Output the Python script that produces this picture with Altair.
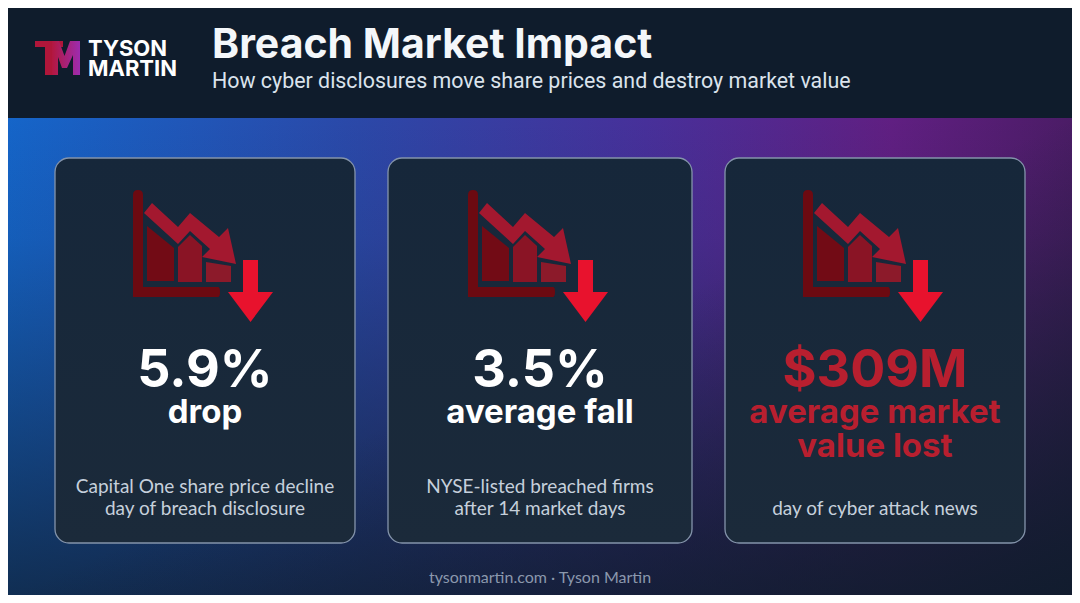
import altair as alt
import pandas as pd

# --- content ---
title = "Breach Market Impact"
subtitle = "How cyber disclosures move share prices and destroy market value"
brand = ["TYSON", "MARTIN"]
footer = "tysonmartin.com · Tyson Martin"

stat_values = ["5.9%", "3.5%", "$309M"]
stat_labels = [["drop"], ["average fall"], ["average market", "value lost"]]
captions = [
    ["Capital One share price decline", "day of breach disclosure"],
    ["NYSE-listed breached firms", "after 14 market days"],
    ["day of cyber attack news"],
]
alert = [False, False, True]

# --- layout (reference pixels; the page margin shifts everything by 8) ---
W, H = 1064, 587
X0, Y0 = 8, 8
card_left = [55, 388, 725]
card_right = [355, 692, 1025]
card_top, card_bottom = 158, 543
card_mid = [(a + b) / 2 for a, b in zip(card_left, card_right)]

xs = alt.Scale(domain=[X0, X0 + W], nice=False, zero=False)
ys = alt.Scale(domain=[Y0, Y0 + H], nice=False, zero=False, reverse=True)


def X(f):
    return alt.X(f, scale=xs, axis=None)


def Y(f):
    return alt.Y(f, scale=ys, axis=None)


def grad(stops, x2=1, y2=0):
    return alt.LinearGradient(
        gradient="linear",
        stops=[alt.GradientStop(offset=o, color=c) for o, c in stops],
        x1=0, y1=0, x2=x2, y2=y2,
    )


def tone(a):
    return "#b81f2f" if a else "#ffffff"


# background
header = alt.Chart(pd.DataFrame({"x": [X0], "x2": [X0 + W], "y": [Y0], "y2": [118]})).mark_rect(
    color="#0f1c2c"
).encode(x=X("x:Q"), x2="x2", y=Y("y:Q"), y2="y2")

band = pd.DataFrame({"x": [X0], "x2": [X0 + W], "y": [118], "y2": [Y0 + H]})
hue = alt.Chart(band).mark_rect(
    fill=grad([(0, "#1565c9"), (0.33, "#2b48a8"), (0.6, "#47309a"), (0.83, "#601f82"), (1, "#4b1c66")])
).encode(x=X("x:Q"), x2="x2", y=Y("y:Q"), y2="y2")
fade = alt.Chart(band).mark_rect(
    fill=grad([(0, "rgba(15,28,44,0)"), (0.25, "rgba(15,28,44,0.1)"), (1, "rgba(15,28,44,0.75)")], x2=0, y2=1)
).encode(x=X("x:Q"), x2="x2", y=Y("y:Q"), y2="y2")
corner = alt.Chart(band).mark_rect(
    fill=grad([(0, "rgba(15,28,44,0)"), (0.5, "rgba(15,28,44,0)"), (1, "rgba(15,28,44,0.85)")], x2=1, y2=1)
).encode(x=X("x:Q"), x2="x2", y=Y("y:Q"), y2="y2")

# cards
cards_df = pd.DataFrame({"x": card_left, "x2": card_right, "y": card_top, "y2": card_bottom})
cards = alt.Chart(cards_df).mark_rect(
    cornerRadius=14,
    fill=grad([(0, "#16273a"), (1, "#1b2a3a")], x2=0, y2=1),
    stroke="#8494ab",
    strokeWidth=1.3,
).encode(x=X("x:Q"), x2="x2", y=Y("y:Q"), y2="y2")

# icon: axes, bars, trend arrow, big arrow (custom symbol paths, 1 unit = 1 px at size 4)
icon_parts = ["axis", "bar1", "bar2", "bar3", "trend", "arrow"]
icon_paths = [
    "M-69,-61 Q-69,-66 -64,-66 Q-59,-66 -59,-61 L-59,31 L16,31 Q18,31 18,36 Q18,41 16,41 L-69,41 Z",
    "M-55,-30 L-28,-8 L-28,25 L-55,25 Z",
    "M-24,-9 L-12,-21 L0,-10 L0,26 L-24,26 Z",
    "M4,6 L29,10 L29,26 L4,26 Z",
    "M-58,-43 L-50,-53 L-24,-29 L-12,-43 L17,-19 L26,-28 L34,8 L0,1 L8,-7 L-12,-25 L-24,-12 Z",
    "M41,4 L56,4 L56,36 L71,36 L48.5,66 L26,36 L41,36 Z",
]
icon_colors = ["#6c0a11", "#720b15", "#8a1425", "#8c1a2a", "#a3182f", "#e8122d"]
icon_rows = [{"x": m - 3, "y": 256, "part": p} for m in card_mid for p in icon_parts]
icons = alt.Chart(pd.DataFrame(icon_rows)).mark_point(
    filled=True, size=4, opacity=1, strokeWidth=0
).encode(
    x=X("x:Q"),
    y=Y("y:Q"),
    shape=alt.Shape("part:N", scale=alt.Scale(domain=icon_parts, range=icon_paths), legend=None),
    color=alt.Color("part:N", scale=alt.Scale(domain=icon_parts, range=icon_colors), legend=None),
)

# logo monogram
logo_pos = pd.DataFrame({"x": [57], "y": [58]})
logo_t = alt.Chart(logo_pos).mark_point(
    filled=True, size=4, opacity=1, strokeWidth=0, color="#b0163a",
    shape="M-22,-17 L6,-17 L6,-11 L-4,-11 L-4,17 L-12,17 L-12,-11 L-22,-11 Z",
).encode(x=X("x:Q"), y=Y("y:Q"))
logo_m = alt.Chart(logo_pos).mark_point(
    filled=True, size=4, opacity=1, strokeWidth=0,
    fill=grad([(0, "#b3173f"), (1, "#9d2cb0")]),
    shape="M-5,-17 L2,-17 L7.5,-2 L13,-17 L23,-17 L23,17 L16,17 L16,-3 L10,10 L5,10 L1,-1 L1,17 L-5,17 Z",
).encode(x=X("x:Q"), y=Y("y:Q"))

brand_txt = alt.Chart(pd.DataFrame({"x": 88, "y": [56, 76], "t": brand})).mark_text(
    font="Inter", fontWeight=700, fontSize=22, color="#ffffff", align="left", baseline="alphabetic"
).encode(x=X("x:Q"), y=Y("y:Q"), text="t:N")

title_txt = alt.Chart(pd.DataFrame({"x": [212], "y": [58], "t": [title]})).mark_text(
    font="Inter", fontWeight=700, fontSize=41, color="#f4f7fa", align="left", baseline="alphabetic"
).encode(x=X("x:Q"), y=Y("y:Q"), text="t:N")

sub_txt = alt.Chart(pd.DataFrame({"x": [212], "y": [88], "t": [subtitle]})).mark_text(
    font="Roboto", fontWeight=400, fontSize=21.4, color="#dbe3ec", align="left", baseline="alphabetic"
).encode(x=X("x:Q"), y=Y("y:Q"), text="t:N")

num_df = pd.DataFrame({"x": card_mid, "y": 387, "t": stat_values, "c": [tone(a) for a in alert]})
nums = alt.Chart(num_df).mark_text(
    font="Inter", fontWeight=700, fontSize=52, align="center", baseline="alphabetic"
).encode(x=X("x:Q"), y=Y("y:Q"), text="t:N", color=alt.Color("c:N", scale=None))

lab_rows = []
for m, lines, a in zip(card_mid, stat_labels, alert):
    for i, line in enumerate(lines):
        lab_rows.append({"x": m, "y": 423 + 34 * i, "t": line, "c": tone(a)})
labels = alt.Chart(pd.DataFrame(lab_rows)).mark_text(
    font="Inter", fontWeight=700, fontSize=33, align="center", baseline="alphabetic"
).encode(x=X("x:Q"), y=Y("y:Q"), text="t:N", color=alt.Color("c:N", scale=None))

cap_rows = []
for m, lines in zip(card_mid, captions):
    n = len(lines)
    for i, line in enumerate(lines):
        cap_rows.append({"x": m, "y": 515 - 22 * (n - 1 - i), "t": line})
caps = alt.Chart(pd.DataFrame(cap_rows)).mark_text(
    font="Lato", fontWeight=400, fontSize=19, color="#c6d0dc", align="center", baseline="alphabetic"
).encode(x=X("x:Q"), y=Y("y:Q"), text="t:N")

foot = alt.Chart(pd.DataFrame({"x": [540], "y": [583], "t": [footer]})).mark_text(
    font="Lato", fontSize=16, color="#8b98ad", align="center", baseline="alphabetic"
).encode(x=X("x:Q"), y=Y("y:Q"), text="t:N")

chart = alt.layer(
    header, hue, fade, corner, cards, icons, logo_t, logo_m,
    brand_txt, title_txt, sub_txt, nums, labels, caps, foot,
).properties(
    width=W, height=H, padding=0, autosize=alt.AutoSizeParams(type="none"), background="#0f1c2c"
).configure_view(stroke=None)

chart.save("out.html", embed_options={"renderer": "svg", "actions": False})
